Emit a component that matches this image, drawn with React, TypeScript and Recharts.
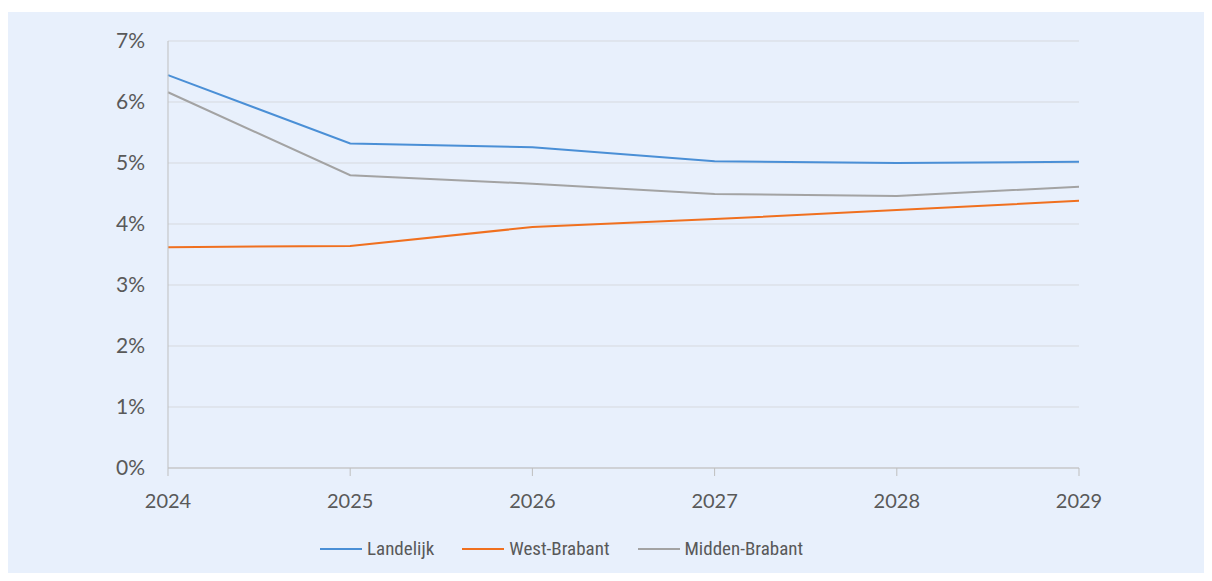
import React from 'react';
import { LineChart, Line, XAxis, YAxis, CartesianGrid, Legend } from 'recharts';

// Years on the x axis
const years = ['2024', '2025', '2026', '2027', '2028', '2029'];

// Values in percent
const landelijk = [6.44, 5.32, 5.26, 5.03, 5.0, 5.02];
const westBrabant = [3.62, 3.64, 3.95, 4.08, 4.23, 4.38];
const middenBrabant = [6.16, 4.8, 4.66, 4.49, 4.46, 4.61];

const yTicks = [0, 1, 2, 3, 4, 5, 6, 7];

const SERIES = [
  { key: 'Landelijk', values: landelijk, color: '#4a8fd6' },
  { key: 'West-Brabant', values: westBrabant, color: '#f0701f' },
  { key: 'Midden-Brabant', values: middenBrabant, color: '#a3a3a3' },
];

const data = years.map((year, i) => {
  const row: Record<string, unknown> = { year };
  SERIES.forEach(s => {
    row[s.key] = s.values[i];
  });
  return row;
});

const FONT = 'Lato, "Open Sans", sans-serif';
const LEGEND_FONT = '"Liberation Sans Narrow", "Roboto Condensed", Lato, sans-serif';
const TEXT = '#595959';

// Legend keeps the series order (no sorting)
function LegendContent() {
  return (
    <div style={{ display: 'flex', justifyContent: 'flex-start', paddingLeft: 315, fontFamily: LEGEND_FONT, fontSize: 19, color: TEXT }}>
      {SERIES.map((s, i) => (
        <div key={i} style={{ display: 'flex', alignItems: 'center', marginRight: i < 2 ? 28 : 0 }}>
          <div style={{ width: 42, height: 2, background: s.color, marginRight: 5 }} />
          <span>{s.key}</span>
        </div>
      ))}
    </div>
  );
}

export default function App() {
  return (
    <div style={{ margin: -8, width: 1212, height: 581, background: '#ffffff', position: 'relative', overflow: 'hidden' }}>
      <div style={{ position: 'absolute', left: 5, top: 12, width: 1207, height: 569, background: '#e8f0fc' }}>
        <LineChart
          width={1207}
          height={569}
          data={data}
          margin={{ top: 29, right: 133, left: 0, bottom: 73 }}
        >
          <CartesianGrid stroke="#d6d9de" vertical={false} />
          <XAxis
            dataKey="year"
            stroke="#bfbfbf"
            tickSize={8}
            tickMargin={18}
            height={40}
            tick={{ fill: TEXT, fontSize: 20, fontFamily: FONT }}
          />
          <YAxis
            domain={[0, 7]}
            ticks={yTicks}
            width={163}
            stroke="#bfbfbf"
            tickLine={false}
            tickSize={0}
            tickMargin={23}
            tickFormatter={(v: number) => `${v}%`}
            tick={{ fill: TEXT, fontSize: 21, fontFamily: FONT }}
          />
          <Legend
            verticalAlign="middle"
            layout="horizontal"
            content={<LegendContent />}
            wrapperStyle={{ top: 525, left: 0, width: 1207 }}
          />
          {SERIES.map(s => (
            <Line
              key={s.key}
              type="linear"
              dataKey={s.key}
              stroke={s.color}
              strokeWidth={2}
              dot={false}
              activeDot={false}
              isAnimationActive={false}
            />
          ))}
        </LineChart>
      </div>
    </div>
  );
}
